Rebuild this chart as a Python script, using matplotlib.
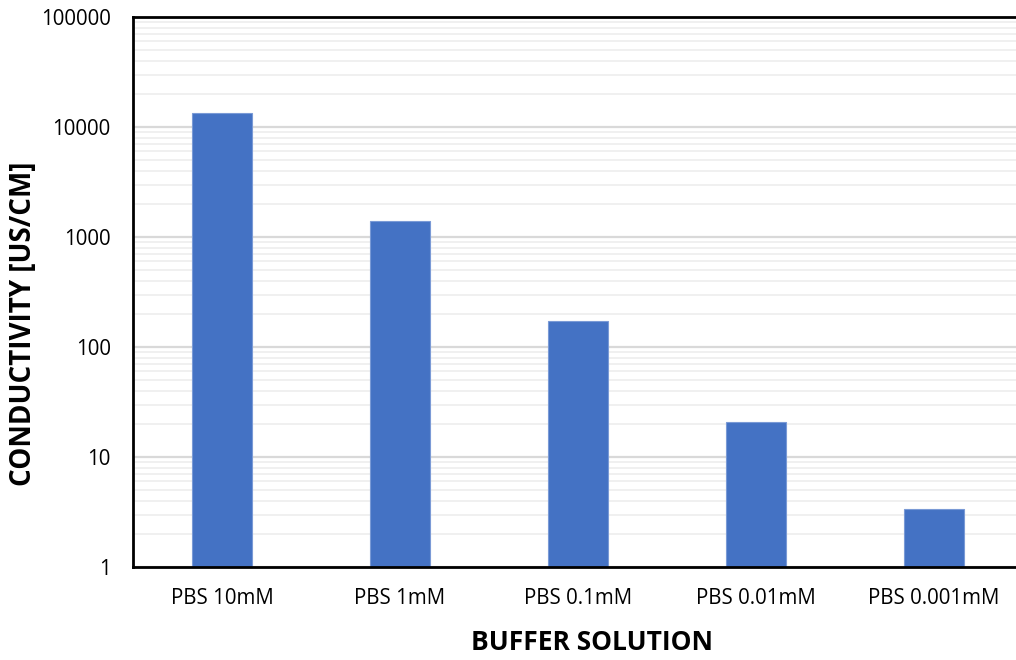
import numpy as np
import matplotlib.pyplot as plt
from matplotlib.ticker import LogLocator, FixedLocator, NullFormatter

plt.rcParams['font.family'] = ['Open Sans', 'DejaVu Sans']

buffers = ['PBS 10mM', 'PBS 1mM', 'PBS 0.1mM', 'PBS 0.01mM', 'PBS 0.001mM']
conductivity = [13400, 1400, 172, 20.8, 3.37]

fig = plt.figure(figsize=(10.16, 6.6), dpi=100)
ax = fig.add_axes([133 / 1016, 1 - 567 / 660, 890 / 1016, 550 / 660])

x = np.arange(len(buffers))
ax.bar(x, conductivity, width=0.337, color='#4472C4', edgecolor='#7A9AD6',
       linewidth=0.8, zorder=3)

ax.set_yscale('log')
ax.set_ylim(1, 100000)
ax.set_xlim(-0.5, len(buffers) - 0.5)

ax.yaxis.set_major_locator(FixedLocator([1, 10, 100, 1000, 10000, 100000]))
ax.set_yticklabels(['1', '10', '100', '1000', '10000', '100000'])
ax.yaxis.set_minor_locator(LogLocator(base=10, subs=np.arange(2, 10)))
ax.yaxis.set_minor_formatter(NullFormatter())

ax.grid(True, which='major', axis='y', color='#d9d9d9', linewidth=1.6, zorder=0)
ax.grid(True, which='minor', axis='y', color='#f0f0f0', linewidth=1.4, zorder=0)

ax.set_xticks(x)
ax.set_xticklabels(buffers)
ax.tick_params(axis='both', which='both', length=0, labelsize=14.8, colors='black')
ax.tick_params(axis='x', pad=15)
ax.tick_params(axis='y', pad=16)

for s in ['left', 'top', 'bottom']:
    ax.spines[s].set_linewidth(2)
    ax.spines[s].set_color('black')
ax.spines['right'].set_visible(False)
ax.spines['bottom'].set_zorder(4)

fig.text(592 / 1016, 1 - 642 / 660, 'BUFFER SOLUTION', fontsize=19,
         fontweight='bold', ha='center', va='center')
fig.text(24 / 1016, 1 - 324 / 660, 'CONDUCTIVITY [US/CM]', fontsize=20,
         fontweight='bold', ha='center', va='center', rotation=90)

fig.savefig('out.png', dpi=100)
